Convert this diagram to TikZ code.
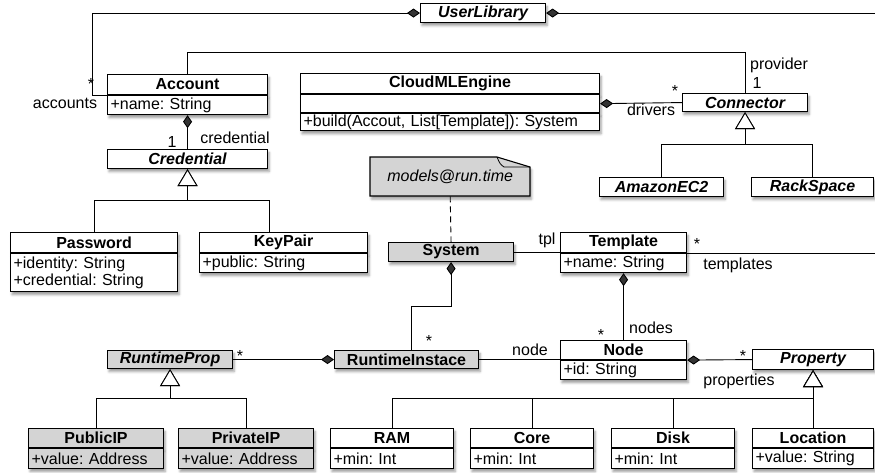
\documentclass[tikz,border=0pt]{standalone}
\usepackage{fontspec}
\setmainfont{Liberation Sans}
\usetikzlibrary{arrows.meta,shadows.blur,positioning}

\newcommand\umlsize{\fontsize{16}{17}\selectfont\frenchspacing}

\tikzset{
  softshadow/.style={blur shadow={shadow xshift=1.5pt, shadow yshift=-3pt, shadow blur radius=2.5pt, shadow opacity=40}},
  umlbox/.style={draw, fill=white, line width=1.1pt, anchor=north west, inner xsep=3pt, inner ysep=0pt, softshadow},
  head/.style={umlbox, font=\umlsize\bfseries, minimum height=20pt},
  abstr/.style={umlbox, font=\umlsize\bfseries\itshape, minimum height=19pt},
  attr/.style={umlbox, font=\umlsize, align=left, minimum height=19pt},
  runtime/.style={fill=black!17},
  lbl/.style={font=\umlsize, inner sep=1pt},
  assoc/.style={line width=0.9pt},
  comp/.style={{Diamond[length=13pt,width=9pt]}-},
  inherit/.style={-{Triangle[open,fill=white,length=17pt,width=20pt]}},
}

\begin{document}
\begin{tikzpicture}[x=1pt,y=-1pt]
\useasboundingbox (0,0) rectangle (875,472);
\coordinate (rim) at (875,0);

% accounts and credentials
\node[abstr, minimum width=125pt] (ulib) at (420,3) {UserLibrary};
\node[head, minimum width=160pt] (acc) at (107,74) {Account};
\node[attr, text width=154pt] (accb) at (acc.south west) {+name: String};
\node[abstr, minimum width=160pt] (cred) at (107,149) {Credential};
\node[head, minimum width=167pt] (pwd) at (10,232) {Password};
\node[attr, text width=161pt, minimum height=38pt] (pwdb) at (pwd.south west) {+identity: String\\+credential: String};
\node[head, minimum width=168pt] (kp) at (199,232) {KeyPair};
\node[attr, text width=162pt] (kpb) at (kp.south west) {+public: String};

% engine and connectors
\node[head, minimum width=299pt] (eng) at (300,73) {CloudMLEngine};
\node[attr, text width=293pt, minimum height=18pt] (engf) at (eng.south west) {};
\node[attr, text width=293pt, minimum height=17pt] (engm) at (engf.south west) {+build(Accout, List[Template]): System};
\node[abstr, minimum width=125pt, minimum height=18pt] (conn) at (682,93) {Connector};
\node[abstr, minimum width=124pt] (ec2) at (599,177) {AmazonEC2};
\node[abstr, minimum width=122pt] (rack) at (751,177) {RackSpace};

% note
\path[fill=black!17, draw, line width=1.1pt, softshadow] (370,157) -- (497,157) -- (530,167) -- (530,196) -- (370,196) -- cycle;
\draw[line width=0.8pt] (497,157) .. controls (500,164) .. (504,167) -- (530,167);
\node[minimum width=160pt, minimum height=39pt, font=\umlsize\itshape, anchor=north west, inner sep=0pt] (note) at (370,157) {models@run.time};

% runtime model
\node[head, runtime, minimum width=125pt, minimum height=19pt] (sys) at (388,242) {System};
\node[head, minimum width=126pt] (tpl) at (560,232) {Template};
\node[attr, text width=120pt] (tplb) at (tpl.south west) {+name: String};
\node[head, minimum width=126pt, minimum height=19pt] (nd) at (560,340) {Node};
\node[attr, text width=120pt] (ndb) at (nd.south west) {+id: String};
\node[abstr, minimum width=121pt, minimum height=20pt] (prop) at (752,349) {Property};
\node[head, runtime, minimum width=144pt, minimum height=18pt] (rin) at (334,350) {RuntimeInstace};
\node[abstr, runtime, minimum width=125pt, minimum height=18pt] (rprop) at (107,350) {RuntimeProp};

% leaves
\node[head, runtime, minimum width=135pt, minimum height=19pt] (pub) at (28,428) {PublicIP};
\node[attr, runtime, text width=129pt, minimum height=20pt] (pubb) at (pub.south west) {+value: Address};
\node[head, runtime, minimum width=135pt, minimum height=19pt] (priv) at (178,428) {PrivateIP};
\node[attr, runtime, text width=129pt, minimum height=20pt] (privb) at (priv.south west) {+value: Address};
\node[head, minimum width=123pt, minimum height=19pt] (ram) at (330,428) {RAM};
\node[attr, text width=117pt, minimum height=20pt] (ramb) at (ram.south west) {+min: Int};
\node[head, minimum width=123pt, minimum height=19pt] (core) at (470,428) {Core};
\node[attr, text width=117pt, minimum height=20pt] (coreb) at (core.south west) {+min: Int};
\node[head, minimum width=123pt, minimum height=19pt] (disk) at (611,428) {Disk};
\node[attr, text width=117pt, minimum height=20pt] (diskb) at (disk.south west) {+min: Int};
\node[head, minimum width=121pt, minimum height=19pt] (loc) at (752,428) {Location};
\node[attr, text width=115pt, minimum height=20pt] (locb) at (loc.south west) {+value: String};

% connectors
\draw[assoc, comp] (ulib.west) -| ([xshift=-15pt]acc.south west) -- (acc.south west);
\draw[assoc, comp] (ulib.east) -- (ulib.east -| rim);
\draw[assoc] (acc.north) -- ++(0,-22) -| (conn.north);
\draw[assoc, comp] (engf.east) -- (conn.west);
\draw[assoc, comp] (accb.south) -- (cred.north);
\draw[assoc, inherit] (pwd.north) -- ++(0,-32) -| (cred.south);
\draw[assoc, inherit] ([xshift=-14pt]kp.north) -- ++(0,-32) -| (cred.south);
\draw[assoc, inherit] (ec2.north) -- ++(0,-33) -| (conn.south);
\draw[assoc, inherit] (rack.north) -- ++(0,-33) -| (conn.south);
\draw[assoc, dash pattern=on 6pt off 4pt] (note.south) -- (sys.north);
\draw[assoc] (sys.east) -- (sys.east -| tpl.south west);
\draw[assoc] (tpl.south east) -- (tpl.south east -| rim);
\draw[assoc, comp] (tplb.south) -- (nd.north);
\draw[assoc, comp] (sys.south) -- ++(0,44) -| ([xshift=5pt]rin.north);
\draw[assoc] (rin.east) -- (rin.east -| nd.south west);
\draw[assoc, comp] (rin.west) -- (rprop.east);
\draw[assoc, inherit] (pub.north) -- ++(0,-30) -| (rprop.south);
\draw[assoc, inherit] (priv.north) -- ++(0,-30) -| (rprop.south);
\draw[assoc, comp] (nd.south east) -- (prop.west);
\draw[assoc, inherit] (ram.north) -- ++(0,-30) -| (prop.south);
\draw[assoc, inherit] (core.north) -- ++(0,-30) -| (prop.south);
\draw[assoc, inherit] (disk.north) -- ++(0,-30) -| (prop.south);
\draw[assoc, inherit] (loc.north) -- (prop.south);

% role names and multiplicities
\node[lbl] (m1) at (91,84) {*};
\node[lbl] (r1) at (65,103) {accounts};
\node[lbl] (r2) at (779,65) {provider};
\node[lbl] (m2) at (757,83) {1};
\node[lbl] (m3) at (675,91) {*};
\node[lbl] (r3) at (651,110) {drivers};
\node[lbl] (m4) at (172,142) {1};
\node[lbl] (r4) at (235,138) {credential};
\node[lbl] (r5) at (547,240) {tpl};
\node[lbl] (m5) at (697,244) {*};
\node[lbl] (r6) at (738,265) {templates};
\node[lbl] (r7) at (651,328) {nodes};
\node[lbl] (m6) at (601,335) {*};
\node[lbl] (m7) at (429,341) {*};
\node[lbl] (r8) at (530,350) {node};
\node[lbl] (m8) at (240,356) {*};
\node[lbl] (m9) at (743,356) {*};
\node[lbl] (r9) at (739,381) {properties};
\end{tikzpicture}
\end{document}
